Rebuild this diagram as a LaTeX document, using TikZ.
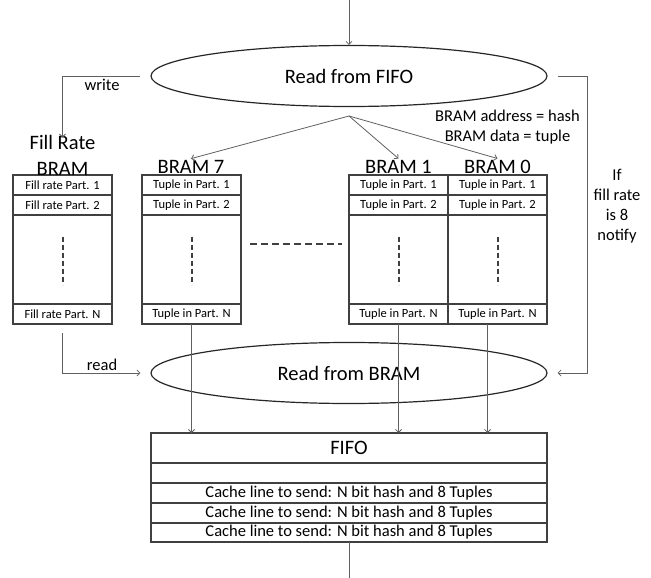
\documentclass[tikz,border=0pt]{standalone}
\usepackage{fontspec}
\setmainfont{Carlito}
\usetikzlibrary{arrows.meta, positioning, shapes.geometric}
\definecolor{wiregray}{HTML}{606060}
\definecolor{boxgray}{HTML}{404040}

\tikzset{
  cell/.style={draw=boxgray, line width=1.1pt, minimum width=99pt, inner sep=0pt, outer sep=0pt,
               font=\fontsize{12.5}{14}\selectfont},
  fifocell/.style={draw=boxgray, line width=1.1pt, minimum width=396pt, minimum height=20pt,
               inner sep=0pt, outer sep=0pt, font=\fontsize{16.5}{18}\selectfont},
  proc/.style={ellipse, draw=black!85, line width=1.2pt, minimum width=396pt,
               minimum height=61pt, font=\fontsize{20.5}{22}\selectfont},
  coltitle/.style={font=\fontsize{20.5}{25}\selectfont, inner sep=1pt},
  note/.style={font=\fontsize{16.5}{20}\selectfont, inner sep=0pt},
  wire/.style={wiregray, line width=0.8pt},
  gap/.style={shorten <=10pt},
  skip/.style={boxgray, line width=2pt},
}

\begin{document}
\begin{tikzpicture}[x=1pt, y=-1pt, >={Straight Barb[length=3pt, width=6pt]}]
\useasboundingbox (0,0) rectangle (651,578);

% Processes
\node[proc] (rdfifo) at (349,76) {Read from FIFO};
\node[proc] (rdbram) at (349,373) {Read from BRAM};

% BRAM columns: four cells each
\foreach \nm/\x/\txt in {fr/13/Fill rate, b7/142/Tuple in, b1/349/Tuple in, b0/448/Tuple in} {
  \node[cell, anchor=north west, minimum height=20pt] (\nm-1) at (\x,175) {\txt\ Part. 1};
  \node[cell, anchor=north, minimum height=20pt] (\nm-2) at (\nm-1.south) {\txt\ Part. 2};
  \node[cell, anchor=north, minimum height=89pt] (\nm-m) at (\nm-2.south) {};
  \node[cell, anchor=north, minimum height=20pt] (\nm-n) at (\nm-m.south) {\txt\ Part. N};
  \draw[skip, dash pattern=on 5pt off 3pt]
    ([yshift=23pt]\nm-m.center) -- ([yshift=-25pt]\nm-m.center);
}

% Column titles
\node[coltitle, align=center, anchor=base] (frt) at (62.5,175) {Fill Rate\\BRAM};
\node[coltitle, anchor=base] (b7t) at (191,173) {BRAM 7};
\node[coltitle, anchor=base] (b1t) at (398.5,173) {BRAM 1};
\node[coltitle, anchor=base] (b0t) at (497.5,173) {BRAM 0};

% Columns left out between BRAM 7 and BRAM 1
\draw[skip, dash pattern=on 7pt off 4pt] (250,244) -- (342,244);

% Output FIFO
\node[fifocell, anchor=north west, minimum height=30pt, font=\fontsize{20.5}{22}\selectfont]
  (fifo) at (151,433) {FIFO};
\node[fifocell, anchor=north] (fifo-e) at (fifo.south) {};
\node[fifocell, anchor=north] (fifo-1) at (fifo-e.south) {Cache line to send: N bit hash and 8 Tuples};
\node[fifocell, anchor=north] (fifo-2) at (fifo-1.south) {Cache line to send: N bit hash and 8 Tuples};
\node[fifocell, anchor=north, minimum height=19pt] (fifo-3) at (fifo-2.south) {Cache line to send: N bit hash and 8 Tuples};

% Labels
\node[note, anchor=base] (wrlab) at (102,91) {write};
\node[note, anchor=base] (rdlab) at (102,370) {read};
\node[note, align=center, anchor=base] (addr) at (507.5,141) {BRAM address = hash\\BRAM data = tuple};
\node[note, align=center, anchor=base] (notify) at (617,240) {If\\fill rate\\is 8\\notify};

% Connectors
\coordinate (in) at (349,0);
\coordinate (out) at (349,578);
\coordinate (fan) at (349,116);
\coordinate (turn) at (587,76);

\draw[wire, ->] (in) -- (rdfifo.north);
\draw[wire, ->, gap] (rdfifo.west) -| ([yshift=-3pt]frt.north);
\draw[wire, ->] (fan) -- (b7t.north);
\draw[wire, ->] (fan) -- (b1t.north);
\draw[wire, ->] (fan) -- (b0t.north);
\draw[wire, ->, gap, shorten >=10pt] (rdfifo.east) -- (turn) |- (rdbram.east);
\draw[wire, ->, shorten <=9pt, shorten >=10pt] (fr-n.south) |- (rdbram.west);
\draw[wire, ->] (b7-n.south) -- (b7-n.south |- fifo.north);
\draw[wire, ->] (b1-n.south) -- (b1-n.south |- fifo.north);
\draw[wire, ->] ([xshift=-10pt]b0-n.south) -- ([xshift=-10pt]b0-n.south |- fifo.north);
\draw[wire] (fifo-3.south) -- (out);

\end{tikzpicture}
\end{document}
